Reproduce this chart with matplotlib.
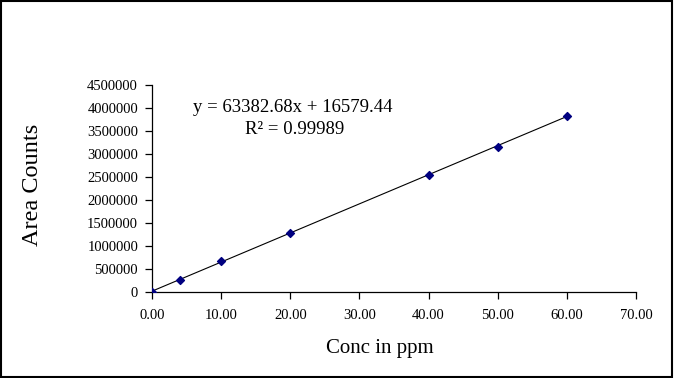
import numpy as np
import matplotlib
matplotlib.use("Agg")
import matplotlib.pyplot as plt
from matplotlib.patches import Rectangle

conc = [0.0, 4.0, 10.0, 20.0, 40.0, 50.0, 60.0]
area = [0, 270000, 680000, 1280000, 2550000, 3160000, 3830000]
x_ticks = [0, 10, 20, 30, 40, 50, 60, 70]
y_ticks = [0, 500000, 1000000, 1500000, 2000000, 2500000, 3000000, 3500000, 4000000, 4500000]
eq_text = "y = 63382.68x + 16579.44"
r2_text = "R² = 0.99989"

plt.rcParams["font.family"] = ["Liberation Serif", "DejaVu Serif"]

fig = plt.figure(figsize=(6.74, 3.78), dpi=100)
ax = fig.add_axes([152 / 674, 1 - 292 / 378, 484 / 674, 207 / 378])

# trendline
slope, intercept = np.polyfit(conc, area, 1)
xl = np.array([min(conc), max(conc)])
ax.plot(xl, slope * xl + intercept, color="black", linewidth=0.8, zorder=2)
ax.scatter(conc, area, marker="D", s=16, color="#000080", zorder=3)

ax.set_xlim(0, 70)
ax.set_ylim(0, 4500000)
ax.set_xticks(x_ticks)
ax.set_xticklabels([f"{v:.2f}" for v in x_ticks])
ax.set_yticks(y_ticks)
ax.set_yticklabels([str(v) for v in y_ticks])
ax.tick_params(labelsize=10.5, length=5, width=0.9, color="black")
ax.tick_params(axis="x", pad=7)
ax.tick_params(axis="y", pad=5)
ax.spines["top"].set_visible(False)
ax.spines["right"].set_visible(False)
for s in ("left", "bottom"):
    ax.spines[s].set_linewidth(0.9)

ax.text(20.3, 4020000, eq_text, ha="center", va="center", fontsize=13.5)
ax.text(20.6, 3540000, r2_text, ha="center", va="center", fontsize=13.5)

fig.text(380 / 674, 1 - 349 / 378, "Conc in ppm", ha="center", va="center", fontsize=15)
fig.text(33 / 674, 1 - 185 / 378, "Area Counts", ha="center", va="center",
         rotation=90, fontsize=17.5)

fig.patches.append(Rectangle((0.002, 0.003), 0.995, 0.994, transform=fig.transFigure,
                             fill=False, edgecolor="black", linewidth=1.5))

fig.savefig("out.png", dpi=100)
